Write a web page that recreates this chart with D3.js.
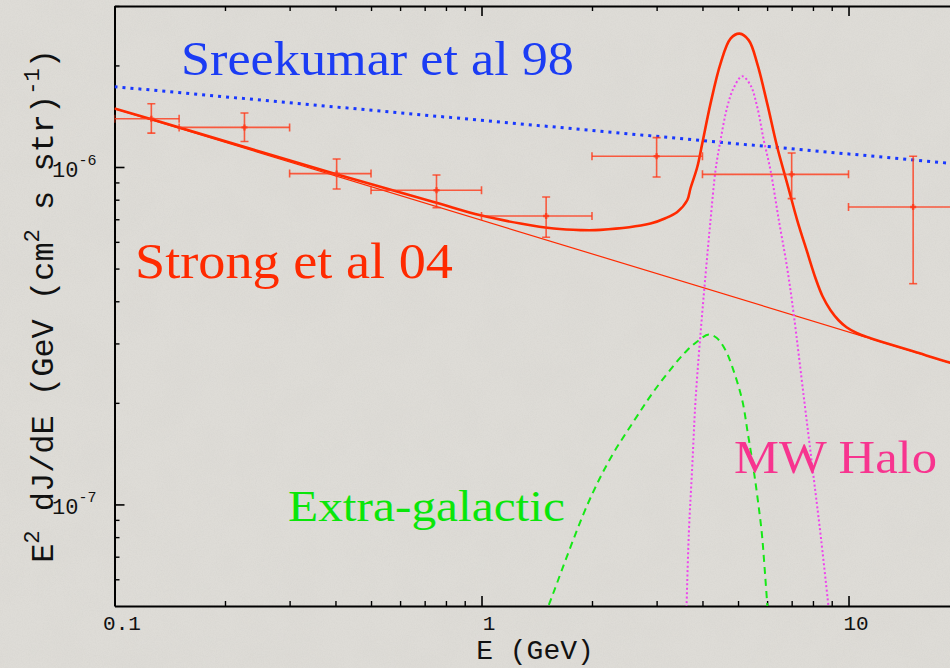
<!DOCTYPE html>
<html>
<head>
<meta charset="utf-8">
<script src="https://cdn.jsdelivr.net/npm/d3@7"></script>
<style>
  html, body { margin: 0; padding: 0; background: #dddbd6; overflow: hidden; }
  svg { display: block; }
</style>
</head>
<body>
<svg id="chart" width="950" height="668"></svg>
<script>
// ---- Data: gamma-ray background spectrum, E^2 dJ/dE in GeV cm^-2 s^-1 sr^-1 ----

// EGRET data points (Strong et al 04): energy bins, bin centres, values and error range
const binLow   = [0.1, 0.15, 0.3, 0.5, 1, 2, 4, 10];
const binHigh  = [0.15, 0.3, 0.5, 1, 2, 4, 10, 20];
const binCentre = [0.126, 0.226, 0.403, 0.754, 1.50, 3.0, 7.0, 15.0];
const fluxValue = [1.39e-6, 1.31e-6, 9.56e-7, 8.53e-7, 7.16e-7, 1.076e-6, 9.51e-7, 7.61e-7];
const fluxUpper = [1.54e-6, 1.445e-6, 1.056e-6, 9.47e-7, 8.15e-7, 1.222e-6, 1.10e-6, 1.076e-6];
const fluxLower = [1.26e-6, 1.19e-6, 8.61e-7, 7.58e-7, 6.19e-7, 9.34e-7, 8.06e-7, 4.51e-7];

// Sreekumar et al 98 power-law fit
const sreekumarFit = [[0.1, 1.73e-6], [20, 1.02e-6]];

// Galactic background power law (thin line)
const backgroundFit = [[0.1, 1.49e-6], [20, 2.58e-7]];

// Background + dark matter components (thick line)
const totalModel = [
  [0.1, 1.49e-6], [0.151, 1.308e-6], [0.396, 9.56e-7], [0.741, 7.88e-7], [0.994, 7.19e-7],
  [1.277, 6.80e-7], [1.574, 6.57e-7], [1.861, 6.50e-7], [2.11, 6.51e-7], [2.887, 6.80e-7],
  [3.172, 7.05e-7], [3.415, 7.36e-7], [3.635, 7.97e-7], [3.711, 8.65e-7], [3.870, 9.98e-7],
  [3.994, 1.173e-6], [4.207, 1.541e-6], [4.479, 2.025e-6], [4.770, 2.401e-6], [5.047, 2.484e-6],
  [5.350, 2.373e-6], [5.640, 2.025e-6], [6.005, 1.541e-6], [6.393, 1.146e-6], [6.808, 8.93e-7],
  [7.249, 6.95e-7], [7.718, 5.59e-7], [8.130, 4.68e-7], [8.496, 4.14e-7], [8.933, 3.763e-7],
  [9.393, 3.514e-7], [9.876, 3.35e-7], [10.56, 3.216e-7], [11.48, 3.11e-7], [12.23, 3.04e-7],
  [15.07, 2.837e-7], [18.96, 2.63e-7], [20, 2.59e-7]
];

// Milky Way halo component (dotted)
const haloModel = [
  [3.614, 4.67e-8], [3.672, 8.22e-8], [3.751, 1.292e-7], [3.830, 2.037e-7], [3.952, 3.216e-7],
  [4.077, 4.777e-7], [4.207, 6.95e-7], [4.341, 9.78e-7], [4.479, 1.20e-6], [4.672, 1.506e-6],
  [4.861, 1.711e-6], [5.133, 1.857e-6], [5.408, 1.746e-6], [5.640, 1.506e-6], [5.877, 1.20e-6],
  [6.130, 9.78e-7], [6.459, 6.95e-7], [6.808, 5.01e-7], [7.096, 3.636e-7], [7.554, 2.08e-7],
  [7.978, 1.281e-7], [8.425, 7.84e-8], [8.875, 4.67e-8]
];

// Extra-galactic component (dashed)
const extraGalModel = [
  [1.484, 4.67e-8], [1.532, 5.10e-8], [1.941, 9.95e-8], [2.246, 1.371e-7], [2.600, 1.765e-7],
  [2.948, 2.165e-7], [3.415, 2.658e-7], [3.635, 2.864e-7], [3.879, 3.046e-7], [4.162, 3.188e-7],
  [4.369, 3.119e-7], [4.623, 2.864e-7], [4.823, 2.556e-7], [5.133, 2.037e-7], [5.317, 1.623e-7],
  [5.500, 1.292e-7], [5.661, 1.030e-7], [5.805, 8.21e-8], [5.904, 6.53e-8], [6.005, 5.07e-8],
  [6.04, 4.67e-8]
];

// Axis ticks
const xMajorTicks = [0.1, 1, 10];
const xTickLabels = ["0.1", "1", "10"];
const xMinorTicks = [0.2, 0.3, 0.4, 0.5, 0.6, 0.7, 0.8, 0.9, 2, 3, 4, 5, 6, 7, 8, 9, 20];
const yMajorTicks = [1e-7, 1e-6];
const yTickExponents = ["-7", "-6"];
const yMinorTicks = [6e-8, 7e-8, 8e-8, 9e-8, 2e-7, 3e-7, 4e-7, 5e-7, 6e-7, 7e-7, 8e-7, 9e-7, 2e-6, 3e-6];

// ---- Layout ----
const plot = { left: 114.5, right: 959, top: 6, bottom: 606 };
const svg = d3.select("#chart");

const x = d3.scaleLog().domain([0.1, 20]).range([plot.left, plot.right]);
const y = d3.scaleLog().domain([5e-8, 3e-6]).range([plot.bottom, plot.top]);

// Paper background with a faint grain
const defs = svg.append("defs");
const grain = defs.append("filter").attr("id", "grain").attr("x", 0).attr("y", 0).attr("width", "100%").attr("height", "100%");
grain.append("feTurbulence").attr("type", "fractalNoise").attr("baseFrequency", 0.85).attr("numOctaves", 2).attr("seed", 4);
grain.append("feColorMatrix").attr("type", "matrix")
  .attr("values", "0 0 0 0 0.45  0 0 0 0 0.44  0 0 0 0 0.42  0.6 0 0 0 -0.22");
const mottle = defs.append("filter").attr("id", "mottle").attr("x", 0).attr("y", 0).attr("width", "100%").attr("height", "100%");
mottle.append("feTurbulence").attr("type", "fractalNoise").attr("baseFrequency", 0.025).attr("numOctaves", 3).attr("seed", 9);
mottle.append("feColorMatrix").attr("type", "matrix")
  .attr("values", "0 0 0 0 0.6  0 0 0 0 0.58  0 0 0 0 0.55  0.5 0 0 0 -0.18");

defs.append("clipPath").attr("id", "plotClip")
  .append("rect")
  .attr("x", plot.left).attr("y", plot.top)
  .attr("width", plot.right - plot.left).attr("height", plot.bottom - plot.top);

svg.append("rect").attr("width", 950).attr("height", 668).attr("fill", "#dedcd7");
svg.append("rect").attr("width", 950).attr("height", 668).attr("filter", "url(#mottle)").attr("opacity", 0.3);
svg.append("rect").attr("width", 950).attr("height", 668).attr("filter", "url(#grain)").attr("opacity", 0.3);

// ---- Axes ----
const axisFont = "'Liberation Mono', 'DejaVu Sans Mono', monospace";

function styleAxis(g) {
  g.select(".domain").attr("stroke", "#000").attr("stroke-width", 2);
  g.selectAll(".tick line").attr("stroke", "#000").attr("stroke-width", 1.6);
}
function styleMinor(g) {
  g.select(".domain").remove();
  g.selectAll(".tick line").attr("stroke", "#000").attr("stroke-width", 1.4);
}

// bottom
const gBottom = svg.append("g").attr("transform", `translate(0,${plot.bottom})`)
  .call(d3.axisBottom(x).tickValues(xMajorTicks).tickSize(-10).tickSizeOuter(0)
    .tickFormat((d, i) => xTickLabels[i]));
gBottom.call(styleAxis);
gBottom.selectAll(".tick text")
  .attr("y", 24).attr("dy", 0).attr("x", 7)
  .attr("font-family", axisFont).attr("font-size", 21).attr("fill", "#111");
svg.append("g").attr("transform", `translate(0,${plot.bottom})`)
  .call(d3.axisBottom(x).tickValues(xMinorTicks).tickSize(-5).tickSizeOuter(0).tickFormat(""))
  .call(styleMinor);

// top
svg.append("g").attr("transform", `translate(0,${plot.top})`)
  .call(d3.axisTop(x).tickValues(xMajorTicks).tickSize(-10).tickSizeOuter(0).tickFormat(""))
  .call(styleAxis);
svg.append("g").attr("transform", `translate(0,${plot.top})`)
  .call(d3.axisTop(x).tickValues(xMinorTicks).tickSize(-5).tickSizeOuter(0).tickFormat(""))
  .call(styleMinor);

// left
svg.append("g").attr("transform", `translate(${plot.left},0)`)
  .call(d3.axisLeft(y).tickValues(yMajorTicks).tickSize(-10).tickSizeOuter(0).tickFormat(""))
  .call(styleAxis);
svg.append("g").attr("transform", `translate(${plot.left},0)`)
  .call(d3.axisLeft(y).tickValues(yMinorTicks).tickSize(-5).tickSizeOuter(0).tickFormat(""))
  .call(styleMinor);

// y tick labels as powers of ten
yMajorTicks.forEach((v, i) => {
  const t = svg.append("text")
    .attr("x", 52).attr("y", y(v) + 10)
    .attr("font-family", axisFont).attr("font-size", 22).attr("fill", "#111");
  t.append("tspan").text("10");
  t.append("tspan").attr("font-size", 15).attr("dy", -12).text(yTickExponents[i]);
});

// axis titles
svg.append("text")
  .attr("x", 535).attr("y", 659).attr("text-anchor", "middle")
  .attr("font-family", axisFont).attr("font-size", 28).attr("fill", "#111")
  .text("E (GeV)");

const yTitle = svg.append("text")
  .attr("transform", "translate(53,306) rotate(-90)")
  .attr("text-anchor", "middle")
  .attr("font-family", axisFont).attr("font-size", 32).attr("fill", "#111");
yTitle.append("tspan").text("E");
yTitle.append("tspan").attr("font-size", 22).attr("dy", -14).text("2");
yTitle.append("tspan").attr("dy", 14).text(" dJ/dE (GeV (cm");
yTitle.append("tspan").attr("font-size", 22).attr("dy", -14).text("2");
yTitle.append("tspan").attr("dy", 14).text(" s str)");
yTitle.append("tspan").attr("font-size", 22).attr("dy", -14).text("-1");
yTitle.append("tspan").attr("dy", 14).text(")");

// ---- Curves ----
const layer = svg.append("g").attr("clip-path", "url(#plotClip)");
const line = d3.line().x(d => x(d[0])).y(d => y(d[1])).curve(d3.curveCatmullRom.alpha(0.5));

layer.append("path").datum(sreekumarFit).attr("d", line)
  .attr("fill", "none").attr("stroke", "#1838ff").attr("stroke-width", 3)
  .attr("stroke-dasharray", "3,5");

layer.append("path").datum(backgroundFit).attr("d", line)
  .attr("fill", "none").attr("stroke", "#ff2a00").attr("stroke-width", 1.2);

layer.append("path").datum(extraGalModel).attr("d", line)
  .attr("fill", "none").attr("stroke", "#16e816").attr("stroke-width", 2)
  .attr("stroke-dasharray", "7,5");

layer.append("path").datum(haloModel).attr("d", line)
  .attr("fill", "none").attr("stroke", "#ee44ee").attr("stroke-width", 2)
  .attr("stroke-dasharray", "2,2.4");

layer.append("path").datum(totalModel).attr("d", line)
  .attr("fill", "none").attr("stroke", "#ff2a00").attr("stroke-width", 2.6);

// ---- Data points with error bars ----
const pts = layer.append("g").attr("stroke", "#ff3818").attr("stroke-opacity", 0.8).attr("stroke-width", 1.6);
binCentre.forEach((e, i) => {
  const cx = x(e), cy = y(fluxValue[i]);
  const x0 = x(binLow[i]), x1 = x(binHigh[i]);
  const yTop = y(fluxUpper[i]), yBot = y(fluxLower[i]);
  // horizontal bar with end caps
  pts.append("line").attr("x1", x0).attr("x2", x1).attr("y1", cy).attr("y2", cy);
  pts.append("line").attr("x1", x0).attr("x2", x0).attr("y1", cy - 4).attr("y2", cy + 4);
  pts.append("line").attr("x1", x1).attr("x2", x1).attr("y1", cy - 4).attr("y2", cy + 4);
  // vertical bar with end caps
  pts.append("line").attr("x1", cx).attr("x2", cx).attr("y1", yTop).attr("y2", yBot);
  pts.append("line").attr("x1", cx - 4).attr("x2", cx + 4).attr("y1", yTop).attr("y2", yTop);
  pts.append("line").attr("x1", cx - 4).attr("x2", cx + 4).attr("y1", yBot).attr("y2", yBot);
  // centre mark
  pts.append("line").attr("x1", cx - 3).attr("x2", cx + 3).attr("y1", cy).attr("y2", cy).attr("stroke-width", 2.4);
  pts.append("line").attr("x1", cx).attr("x2", cx).attr("y1", cy - 3).attr("y2", cy + 3).attr("stroke-width", 2.4);
});

// ---- Labels ----
const serif = "'Liberation Serif', 'DejaVu Serif', serif";
function label(txt, px, py, size, width, colour) {
  svg.append("text").attr("x", px).attr("y", py)
    .attr("font-family", serif).attr("font-size", size).attr("fill", colour)
    .attr("textLength", width).attr("lengthAdjust", "spacingAndGlyphs")
    .text(txt);
}
label("Sreekumar et al 98", 181, 75, 49, 393, "#1b3cf4");
label("Strong et al 04", 135, 278, 50, 318, "#ff2a00");
label("Extra-galactic", 288, 521, 44, 277, "#0ae60a");
label("MW Halo", 734, 473, 46, 203, "#f7348f");
</script>
</body>
</html>
